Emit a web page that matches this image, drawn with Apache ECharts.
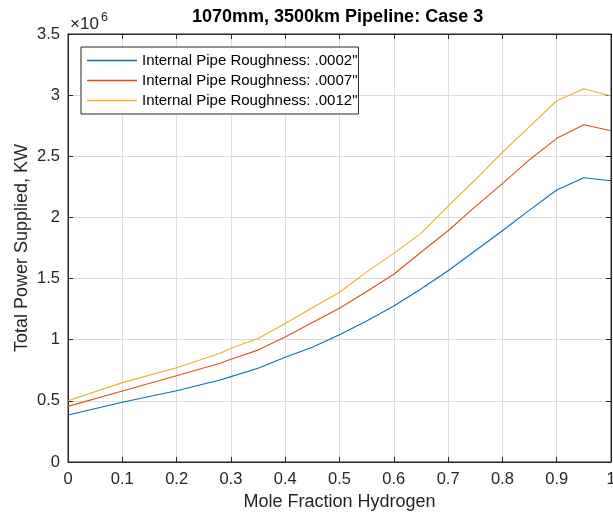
<!DOCTYPE html>
<html>
<head>
<meta charset="utf-8">
<script src="https://cdn.jsdelivr.net/npm/echarts@6/dist/echarts.min.js"></script>
<style>
html,body{margin:0;padding:0;background:#fff;}
#chart{width:613px;height:513px;}
</style>
</head>
<body>
<div id="chart"></div>
<script>
// Mole fraction hydrogen (x)
var moleFraction = [0, 0.1, 0.2, 0.28, 0.3, 0.35, 0.4, 0.45, 0.5, 0.55, 0.6, 0.65, 0.7, 0.75, 0.8, 0.85, 0.9, 0.95, 1.0];
// Total power supplied, KW
var rough0002 = [384000, 488000, 583000, 670000, 698000, 766000, 856000, 938000, 1041000, 1153000, 1276000, 1415000, 1564000, 1728000, 1891000, 2060000, 2224000, 2325000, 2300000];
var rough0007 = [455000, 580000, 706000, 807000, 840000, 915000, 1022000, 1140000, 1257000, 1395000, 1535000, 1715000, 1891000, 2088000, 2276000, 2472000, 2647000, 2758000, 2709000];
var rough0012 = [501000, 649000, 771000, 889000, 930000, 1010000, 1132000, 1262000, 1388000, 1555000, 1706000, 1870000, 2093000, 2308000, 2533000, 2742000, 2954000, 3052000, 2993000];
var seriesNames = ['Internal Pipe Roughness: .0002"', 'Internal Pipe Roughness: .0007"', 'Internal Pipe Roughness: .0012"'];
var xTicks = [0, 0.1, 0.2, 0.3, 0.4, 0.5, 0.6, 0.7, 0.8, 0.9, 1];
var yTicks = [0, 0.5, 1, 1.5, 2, 2.5, 3, 3.5];

var FONT = '"Liberation Sans", Arial, Helvetica, sans-serif';
var INK = '#262626';
var GRIDC = '#dcdcdc';

function pairs(ys){ return moleFraction.map(function(x,i){ return [x, ys[i]]; }); }

var chart = echarts.init(document.getElementById('chart'), null, {renderer:'canvas'});
var colors = ['#0072BD', '#D95319', '#EDB120'];
var allY = [rough0002, rough0007, rough0012];

var series = seriesNames.map(function(n, i){
  return {
    name: n, type: 'line', xAxisIndex: 0, yAxisIndex: 0,
    data: pairs(allY[i]), symbol: 'none', showSymbol: false,
    color: colors[i],
    lineStyle: {color: colors[i], width: 1.1},
    itemStyle: {color: colors[i]},
    z: 3
  };
});
// empty helper series so the top/right box axes are drawn
series.push({name: '_box', type: 'line', xAxisIndex: 1, yAxisIndex: 1, data: [], symbol: 'none', silent: true});

var option = {
  animation: false,
  backgroundColor: '#ffffff',
  textStyle: {fontFamily: FONT},
  title: {
    text: '1070mm, 3500km Pipeline: Case 3',
    left: 192, top: 8, padding: 0,
    textStyle: {fontFamily: FONT, fontSize: 18, fontWeight: 'bold', color: '#000'}
  },
  graphic: [
    {type:'text', left: 70, top: 16, style:{text:'×10', font:'17px ' + FONT, fill: INK}},
    {type:'text', left: 101, top: 11, style:{text:'6', font:'12.5px ' + FONT, fill: INK}}
  ],
  legend: {
    orient: 'vertical',
    left: 81, top: 47,
    padding: [6, 1, 6, 6],
    itemWidth: 50, itemHeight: 2, itemGap: 5,
    backgroundColor: '#fff',
    borderColor: INK, borderWidth: 1,
    textStyle: {fontFamily: FONT, fontSize: 15, color: '#000'},
    data: seriesNames.map(function(n){ return {name: n, icon: 'path://M0,0 L50,0 L50,1.5 L0,1.5 Z'}; })
  },
  grid: {left: 68, right: 2, top: 34, bottom: 51, containLabel: false, outerBoundsMode: 'none',
         show: true, borderColor: INK, borderWidth: 1, backgroundColor: 'transparent'},
  xAxis: [{
    type: 'value', min: 0, max: 1, interval: 0.1, position: 'bottom',
    name: 'Mole Fraction Hydrogen', nameLocation: 'middle', nameGap: 31, nameMoveOverlap: false,
    nameTextStyle: {fontFamily: FONT, fontSize: 18, color: INK},
    axisLine: {show: true, onZero: false, lineStyle: {color: INK, width: 1}},
    axisTick: {show: true, inside: true, length: 5, lineStyle: {color: INK}},
    axisLabel: {fontFamily: FONT, fontSize: 16.5, color: INK, margin: 9,
      formatter: function(v){ var t = xTicks.reduce(function(a,b){ return Math.abs(b-v) < Math.abs(a-v) ? b : a; }); return String(t); }},
    splitLine: {show: true, lineStyle: {color: GRIDC, width: 1}}
  }, {
    type: 'value', min: 0, max: 1, interval: 0.1, position: 'top',
    axisLine: {show: true, onZero: false, lineStyle: {color: INK, width: 1}},
    axisTick: {show: true, inside: true, length: 5, lineStyle: {color: INK}},
    axisLabel: {show: false}, splitLine: {show: false}
  }],
  yAxis: [{
    type: 'value', min: 0, max: 3500000, interval: 500000, position: 'left',
    name: 'Total Power Supplied, KW', nameLocation: 'middle', nameGap: 37, nameMoveOverlap: false,
    nameTextStyle: {fontFamily: FONT, fontSize: 18, color: INK},
    axisLine: {show: true, onZero: false, lineStyle: {color: INK, width: 1}},
    axisTick: {show: true, inside: true, length: 5, lineStyle: {color: INK}},
    axisLabel: {fontFamily: FONT, fontSize: 16.5, color: INK, margin: 8,
      formatter: function(v){ var t = yTicks.reduce(function(a,b){ return Math.abs(b-v/1e6) < Math.abs(a-v/1e6) ? b : a; }); return String(t); }},
    splitLine: {show: true, lineStyle: {color: GRIDC, width: 1}}
  }, {
    type: 'value', min: 0, max: 3500000, interval: 500000, position: 'right',
    axisLine: {show: true, onZero: false, lineStyle: {color: INK, width: 1}},
    axisTick: {show: true, inside: true, length: 5, lineStyle: {color: INK}},
    axisLabel: {show: false}, splitLine: {show: false}
  }],
  series: series
};
chart.setOption(option);
</script>
</body>
</html>
